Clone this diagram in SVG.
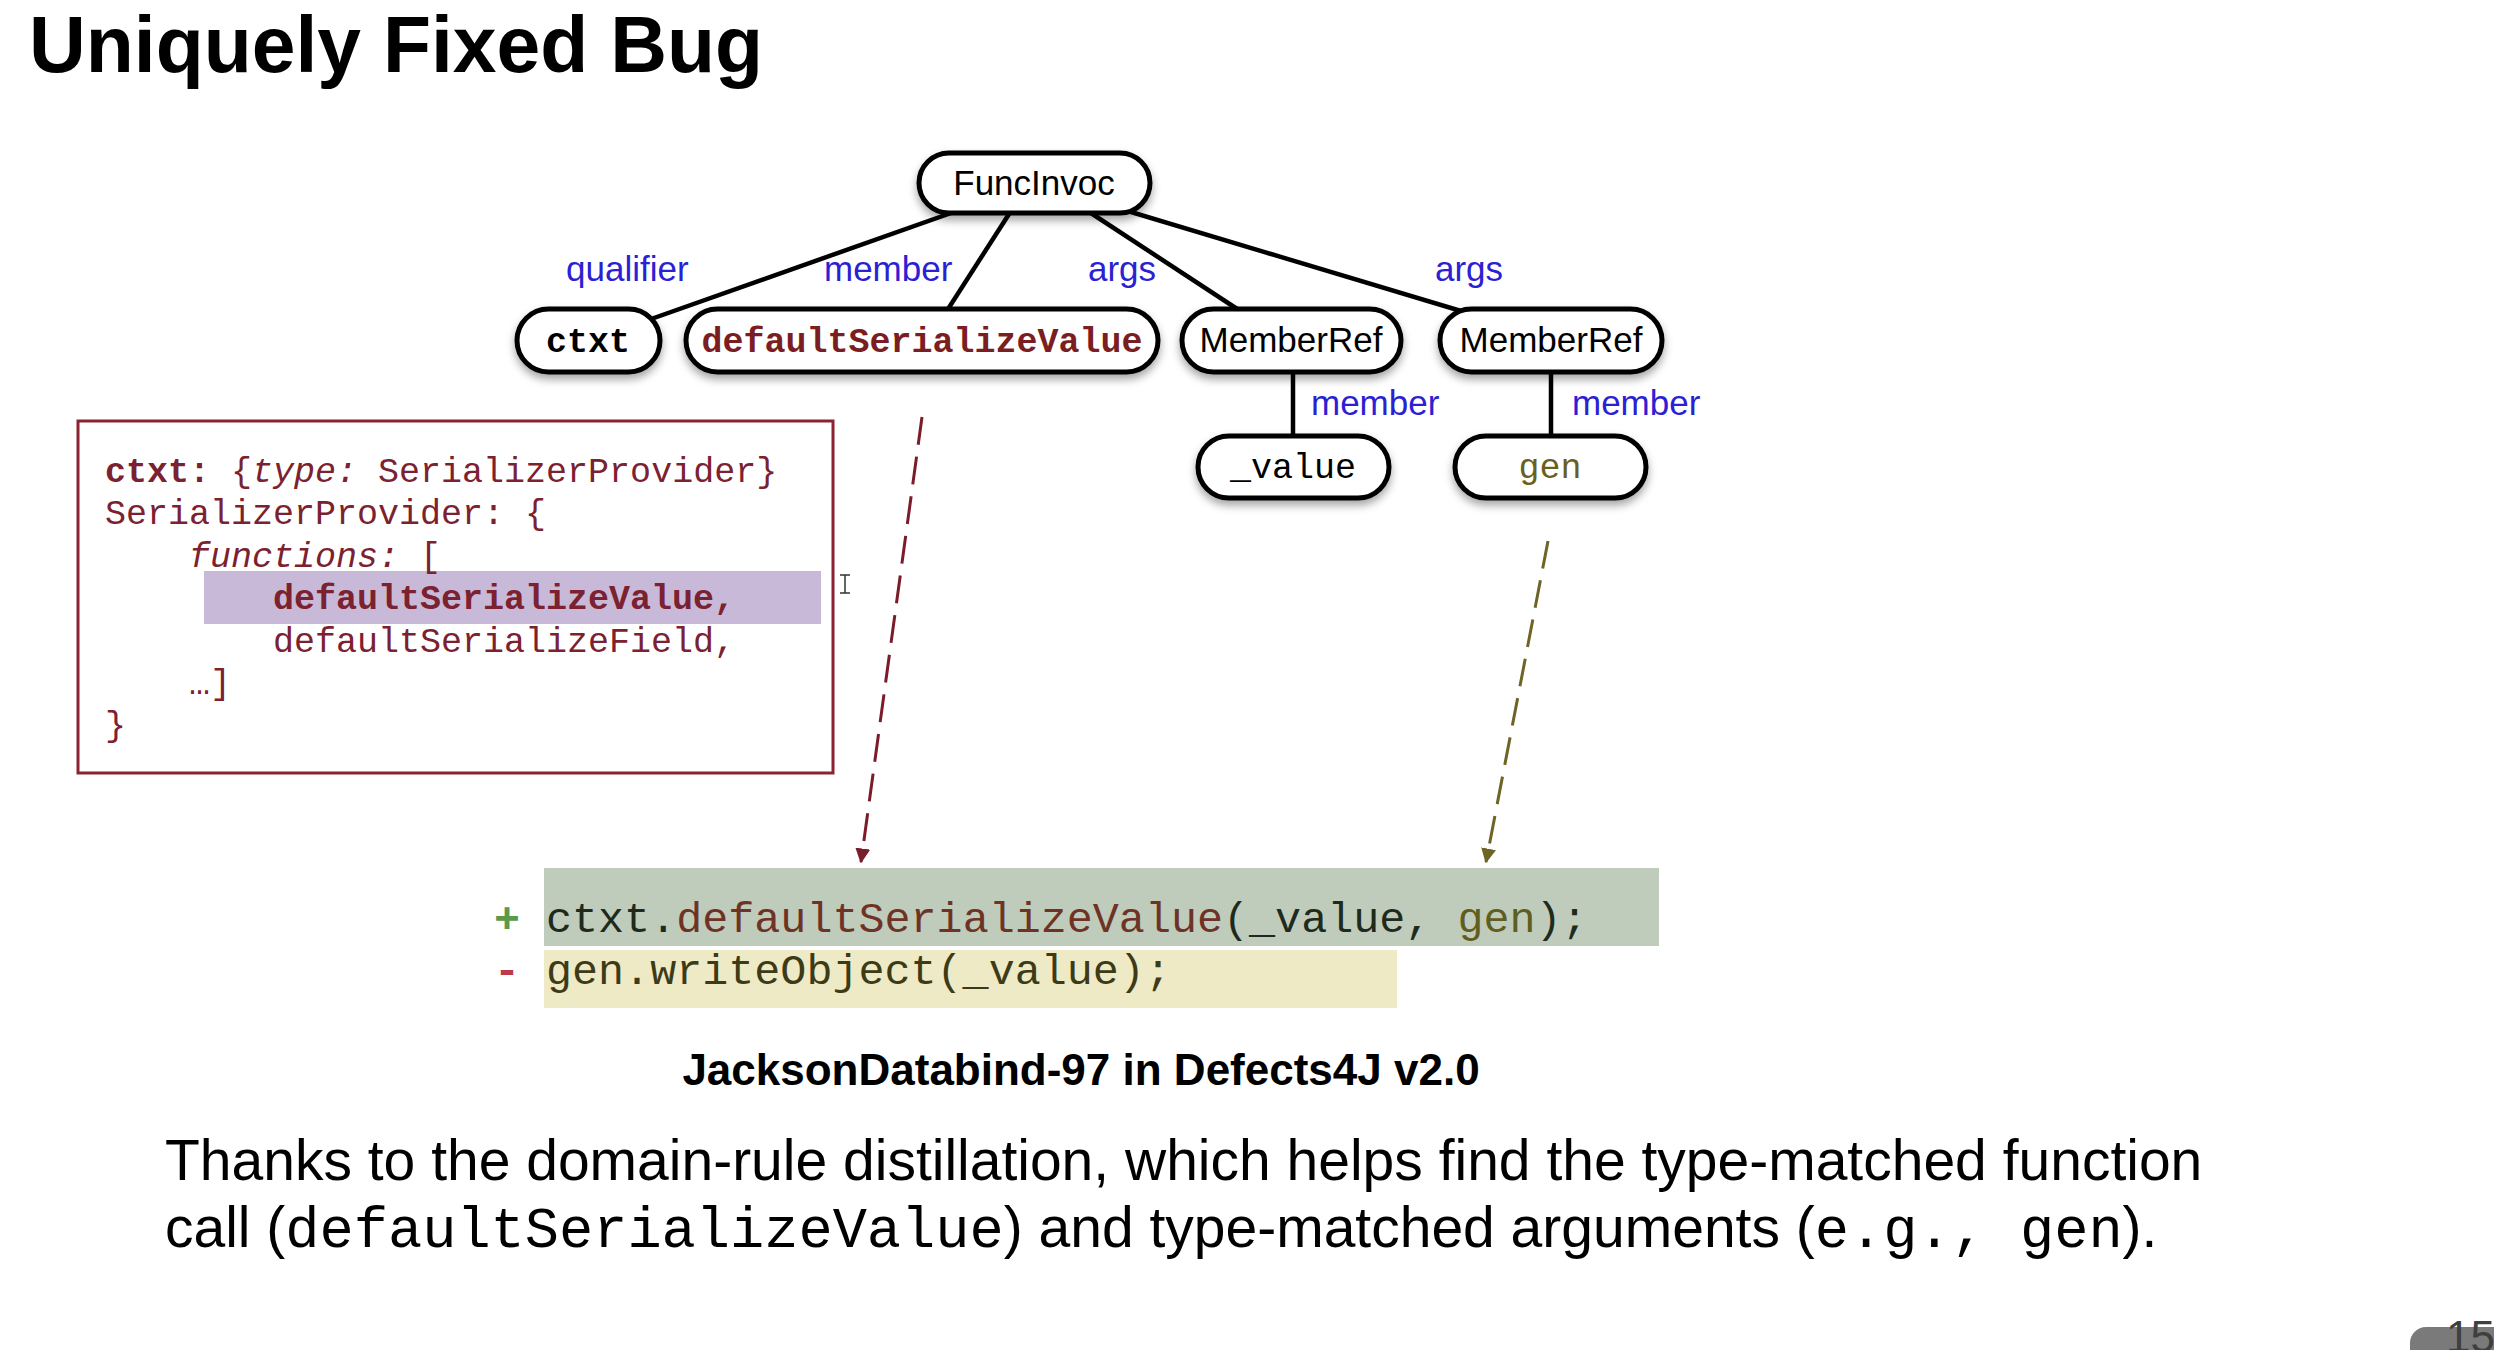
<svg xmlns="http://www.w3.org/2000/svg" width="2494" height="1350" viewBox="0 0 2494 1350">
<defs>
<style>
.sans{font-family:"Liberation Sans",Arial,sans-serif}
.mono{font-family:"Liberation Mono","Courier New",monospace}
.node{fill:#fff;stroke:#000;stroke-width:5;filter:url(#sh)}
.nt{font-family:"Liberation Sans",Arial,sans-serif;font-size:35px;fill:#000;text-anchor:middle}
.nm{font-family:"Liberation Mono","Courier New",monospace;font-size:35px;text-anchor:middle}
.edge{stroke:#000;stroke-width:4.5;fill:none}
.lbl{font-family:"Liberation Sans",Arial,sans-serif;font-size:35px;fill:#2c1fd4}
.code{font-family:"Liberation Mono","Courier New",monospace;font-size:35px;fill:#7b2130}
.diff{font-family:"Liberation Mono","Courier New",monospace;font-size:43.4px}
</style>
<filter id="sh" x="-20%" y="-30%" width="140%" height="180%">
<feDropShadow dx="0" dy="5" stdDeviation="4" flood-color="#000" flood-opacity="0.35"/>
</filter>
<marker id="arrR" viewBox="0 0 10 10" refX="9" refY="5" markerWidth="5" markerHeight="5" orient="auto" markerUnits="strokeWidth">
<path d="M0,0 L10,5 L0,10 z" fill="#7a1c2a"/>
</marker>
<marker id="arrO" viewBox="0 0 10 10" refX="9" refY="5" markerWidth="5" markerHeight="5" orient="auto" markerUnits="strokeWidth">
<path d="M0,0 L10,5 L0,10 z" fill="#6e6426"/>
</marker>
</defs>
<rect width="2494" height="1350" fill="#fff"/>

<text class="sans" x="29" y="72" font-size="79" font-weight="bold" fill="#000" textLength="734" lengthAdjust="spacingAndGlyphs">Uniquely Fixed Bug</text>

<g id="connectors">
<line class="edge" x1="1002" y1="195" x2="620" y2="330"/>
<line class="edge" x1="1018" y1="200" x2="941" y2="320"/>
<line class="edge" x1="1071" y1="200" x2="1254" y2="320"/>
<line class="edge" x1="1091" y1="200" x2="1491" y2="320"/>
<line class="edge" x1="1293" y1="360" x2="1293" y2="450"/>
<line class="edge" x1="1551" y1="360" x2="1551" y2="450"/>
<line x1="922" y1="417" x2="861" y2="862" stroke="#7a1c2a" stroke-width="3" stroke-dasharray="28 12" marker-end="url(#arrR)"/>
<line x1="1548" y1="541" x2="1486" y2="862" stroke="#6e6426" stroke-width="3" stroke-dasharray="28 12" marker-end="url(#arrO)"/>
</g>

<g id="edge-labels">
<text class="lbl" x="566" y="281">qualifier</text>
<text class="lbl" x="824" y="281">member</text>
<text class="lbl" x="1088" y="281">args</text>
<text class="lbl" x="1435" y="281">args</text>
<text class="lbl" x="1311" y="415">member</text>
<text class="lbl" x="1572" y="415">member</text>
</g>

<g id="n-funcinvoc">
<rect class="node" x="919" y="153" width="231" height="60" rx="30"/>
<text class="nt" x="1034" y="195">FuncInvoc</text>
</g>
<g id="n-ctxt">
<rect class="node" x="517" y="309" width="143" height="63" rx="31.5"/>
<text class="nm" x="588" y="352" font-weight="bold" fill="#000">ctxt</text>
</g>
<g id="n-defaultSerializeValue">
<rect class="node" x="686" y="309" width="472" height="63" rx="31.5"/>
<text class="nm" x="922" y="352" font-weight="bold" fill="#7a1e22">defaultSerializeValue</text>
</g>
<g id="n-memberref1">
<rect class="node" x="1182" y="309" width="219" height="63" rx="31.5"/>
<text class="nt" x="1291" y="352">MemberRef</text>
</g>
<g id="n-memberref2">
<rect class="node" x="1440" y="309" width="222" height="63" rx="31.5"/>
<text class="nt" x="1551" y="352">MemberRef</text>
</g>
<g id="n-value">
<rect class="node" x="1198" y="436" width="191" height="62" rx="31"/>
<text class="nm" x="1293" y="478" fill="#000">_value</text>
</g>
<g id="n-gen">
<rect class="node" x="1455" y="436" width="191" height="62" rx="31"/>
<text class="nm" x="1550" y="478" fill="#6b5f20">gen</text>
</g>

<g id="typebox">
<rect x="78" y="421" width="755" height="352" fill="#fff" stroke="#8b2332" stroke-width="3"/>
<rect x="204" y="571" width="617" height="53" fill="#c9b9d9"/>
<text class="code" x="105" y="482" xml:space="preserve"><tspan font-weight="bold">ctxt:</tspan> {<tspan font-style="italic">type:</tspan> SerializerProvider}</text>
<text class="code" x="105" y="524">SerializerProvider: {</text>
<text class="code" x="189" y="567" xml:space="preserve"><tspan font-style="italic">functions:</tspan> [</text>
<text class="code" x="273" y="609" font-weight="bold">defaultSerializeValue,</text>
<text class="code" x="273" y="652">defaultSerializeField,</text>
<text class="code" x="189" y="694">…]</text>
<text class="code" x="105" y="736">}</text>
<path d="M840,575 h10 M845,575 v18 M840,593 h10" stroke="#333" stroke-width="1.5" fill="none"/>
</g>

<g id="diff">
<rect x="544" y="868" width="1115" height="78" fill="#bfcbbb"/>
<rect x="544" y="950" width="853" height="58" fill="#eeeac5"/>
<text class="diff" x="494" y="932" font-weight="bold" fill="#5a9a4a">+</text>
<text class="diff" x="494" y="984" font-weight="bold" fill="#c0394a">-</text>
<text class="diff" x="546" y="932" xml:space="preserve"><tspan fill="#1e2a1c">ctxt.</tspan><tspan fill="#6e3324">defaultSerializeValue</tspan><tspan fill="#1e2a1c">(_value, </tspan><tspan fill="#5f5e1e">gen</tspan><tspan fill="#1e2a1c">);</tspan></text>
<text class="diff" x="546" y="984" fill="#3d3a17">gen.writeObject(_value);</text>
</g>

<text class="sans" x="1081" y="1085" font-size="44" font-weight="bold" text-anchor="middle" fill="#000">JacksonDatabind-97 in Defects4J v2.0</text>

<g id="summary" font-size="57" fill="#000">
<text class="sans" x="165" y="1180">Thanks to the domain-rule distillation, which helps find the type-matched function</text>
<text class="sans" x="165" y="1247" xml:space="preserve">call (<tspan class="mono">defaultSerializeValue</tspan>) and type-matched arguments (<tspan class="mono">e.g., gen</tspan>).</text>
</g>

<g id="pagenum">
<rect x="2410" y="1327" width="110" height="40" rx="16" fill="#7a7a7a"/>
<text class="sans" x="2446" y="1352" font-size="44" fill="#3f3f3f">15</text>
</g>
</svg>
